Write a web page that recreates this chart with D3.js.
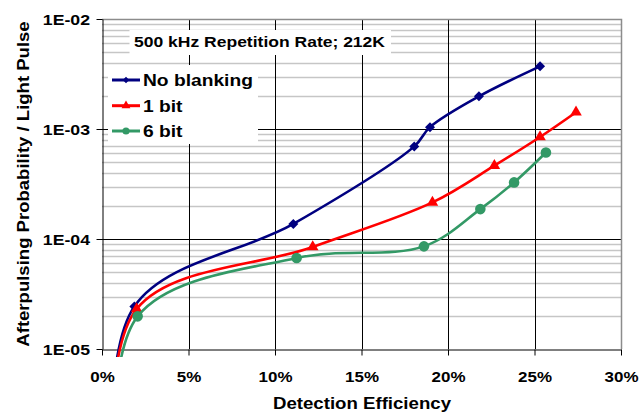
<!DOCTYPE html>
<html>
<head>
<meta charset="utf-8">
<script src="https://cdn.jsdelivr.net/npm/d3@7"></script>
<style>
    body { margin: 0; background: #fff; }
    text { font-family: "Liberation Sans", Arial, sans-serif; font-weight: bold; fill: #000; }
</style>
</head>
<body>
<script>
// detection efficiency (%) and afterpulsing probability / light pulse
// first point of every series sits below 1E-05, only its curve is seen
const noBlankingEff = [0.6, 1.87, 11.06, 18.05, 18.96, 21.79, 25.32];
const noBlankingProb = [3e-7, 2.44e-5, 1.37e-4, 6.95e-4, 1.04e-3, 1.98e-3, 3.71e-3];

const oneBitEff = [0.6, 2.0, 12.18, 19.1, 22.68, 25.32, 27.4];
const oneBitProb = [3e-7, 2.31e-5, 8.46e-5, 2.15e-4, 4.64e-4, 8.46e-4, 1.42e-3];

const sixBitEff = [0.7, 2.06, 11.25, 18.61, 21.87, 23.82, 25.66];
const sixBitProb = [3e-7, 1.98e-5, 6.72e-5, 8.57e-5, 1.87e-4, 3.27e-4, 6.12e-4];

const seriesNames = ["No blanking", "1 bit", "6 bit"];
const xTicks = [0, 5, 10, 15, 20, 25, 30];
const yTicks = [1e-5, 1e-4, 1e-3, 1e-2];
const yTickLabels = ["1E-05", "1E-04", "1E-03", "1E-02"];
const chartTitle = "500 kHz Repetition Rate; 212K";
const xTitle = "Detection Efficiency";
const yTitle = "Afterpulsing Probability / Light Pulse";

(function() {

    const width = 639;
    const height = 413;
    const plot = {left: 102, right: 621, top: 19, bottom: 349};

    // the text in the picture is a bit wider than Arial, so stretch it
    function stretch(sel, k) {
        sel.each(function() {
            let w = this.getComputedTextLength();
            d3.select(this)
                .attr("textLength", w * k)
                .attr("lengthAdjust", "spacingAndGlyphs");
        });
    }

    const svg = d3.select("body").append("svg")
        .attr("width", width)
        .attr("height", height);

    const x = d3.scaleLinear()
        .domain([0, 30])
        .range([plot.left, plot.right]);

    const y = d3.scaleLog()
        .domain([1e-5, 1e-2])
        .range([plot.bottom, plot.top]);

    const series = [
        {name: seriesNames[0], eff: noBlankingEff, prob: noBlankingProb, color: "#000080", symbol: "diamond"},
        {name: seriesNames[1], eff: oneBitEff, prob: oneBitProb, color: "#ff0000", symbol: "triangle"},
        {name: seriesNames[2], eff: sixBitEff, prob: sixBitProb, color: "#339966", symbol: "circle"}
    ];

    // minor gridlines (2..9 of each decade)
    const minor = y.ticks().filter(v => Math.abs(Math.log10(v) - Math.round(Math.log10(v))) > 1e-6);
    svg.append("g")
        .selectAll("line")
        .data(minor)
        .enter()
        .append("line")
        .attr("x1", plot.left)
        .attr("x2", plot.right)
        .attr("y1", d => Math.round(y(d)) + 0.5)
        .attr("y2", d => Math.round(y(d)) + 0.5)
        .style("stroke", "#c6c6c6")
        .style("stroke-width", 1.4);

    // major gridlines
    svg.append("g")
        .selectAll("line")
        .data(yTicks.slice(1, 3))
        .enter()
        .append("line")
        .attr("x1", plot.left)
        .attr("x2", plot.right)
        .attr("y1", d => Math.round(y(d)) + 0.5)
        .attr("y2", d => Math.round(y(d)) + 0.5)
        .style("stroke", "#000")
        .style("stroke-width", 1);

    svg.append("g")
        .selectAll("line")
        .data(xTicks.slice(1, 6))
        .enter()
        .append("line")
        .attr("x1", d => Math.round(x(d)) + 0.5)
        .attr("x2", d => Math.round(x(d)) + 0.5)
        .attr("y1", plot.top)
        .attr("y2", plot.bottom)
        .style("stroke", "#000")
        .style("stroke-width", 1);

    // grey frame on top and right
    svg.append("path")
        .attr("d", "M" + plot.left + "," + (plot.top + 0.5) + "H" + (plot.right + 0.5) + "V" + plot.bottom)
        .style("fill", "none")
        .style("stroke", "#8c8c8c")
        .style("stroke-width", 1.5);

    // white boxes for the title and the legend
    svg.append("rect")
        .attr("x", 129.5).attr("y", 30)
        .attr("width", 261.5).attr("height", 25)
        .style("fill", "#fff");

    svg.append("rect")
        .attr("x", 108).attr("y", 65)
        .attr("width", 150).attr("height", 79)
        .style("fill", "#fff");

    svg.append("text")
        .attr("x", 134)
        .attr("y", 46.5)
        .style("font-size", "15px")
        .text(chartTitle)
        .call(stretch, 1.167);

    // axes
    const yAxis = d3.axisLeft(y)
        .tickValues(yTicks)
        .tickFormat((d, i) => yTickLabels[i])
        .tickSize(6)
        .tickSizeOuter(0)
        .tickPadding(7);

    const gy = svg.append("g")
        .attr("transform", "translate(" + (plot.left + 0.5) + ",0)")
        .call(yAxis);
    gy.select(".domain").style("stroke", "#000");
    gy.selectAll("text")
        .attr("dy", null)
        .attr("y", 5)
        .attr("x", -12.5)
        .style("font-size", "14.5px")
        .style("font-family", null)
        .call(stretch, 1.22);

    const xAxis = d3.axisBottom(x)
        .tickValues(xTicks)
        .tickFormat(d => d + "%")
        .tickSize(6)
        .tickSizeOuter(0);

    const gx = svg.append("g")
        .attr("transform", "translate(0," + (plot.bottom + 0.5) + ")")
        .call(xAxis);
    gx.select(".domain").style("stroke", "#000");
    gx.selectAll("text")
        .attr("dy", null)
        .attr("y", 32)
        .style("font-size", "15px")
        .style("font-family", null)
        .call(stretch, 1.13);

    svg.append("text")
        .attr("x", 362)
        .attr("y", 409.3)
        .attr("text-anchor", "middle")
        .style("font-size", "16px")
        .text(xTitle)
        .call(stretch, 1.164);

    svg.append("text")
        .attr("transform", "translate(29,184) rotate(-90)")
        .attr("text-anchor", "middle")
        .style("font-size", "17px")
        .text(yTitle)
        .call(stretch, 1.09);

    // series
    svg.append("clipPath")
        .attr("id", "plotClip")
        .append("rect")
        .attr("x", plot.left)
        .attr("y", plot.top)
        .attr("width", plot.right - plot.left)
        .attr("height", plot.bottom - plot.top + 8);

    // centripetal spline keeps the short 18-19% step free of a loop
    const line = d3.line()
        .x(d => x(d[0]))
        .y(d => y(d[1]))
        .curve(d3.curveCatmullRom.alpha(0.5));

    const symbols = {
        diamond: d3.symbol().type(d3.symbolSquare).size(50),
        triangle: d3.symbol().type(d3.symbolTriangle).size(58),
        circle: d3.symbol().type(d3.symbolCircle).size(88)
    };
    const legendSymbols = {
        diamond: d3.symbol().type(d3.symbolSquare).size(22),
        triangle: d3.symbol().type(d3.symbolTriangle).size(34),
        circle: d3.symbol().type(d3.symbolCircle).size(40)
    };

    series.forEach(function(s) {
        let pts = s.eff.map((e, i) => [e, s.prob[i]]);

        svg.append("path")
            .attr("clip-path", "url(#plotClip)")
            .attr("d", line(pts))
            .style("fill", "none")
            .style("stroke", s.color)
            .style("stroke-width", 2.6);

        svg.append("g")
            .selectAll("path")
            .data(pts.filter(p => p[1] >= 1e-5))
            .enter()
            .append("path")
            .attr("d", symbols[s.symbol])
            .attr("transform", d => "translate(" + x(d[0]) + "," + y(d[1]) + ")" + (s.symbol == "diamond" ? " rotate(45)" : ""))
            .style("fill", s.color);
    });

    // legend
    const legend = svg.append("g")
        .selectAll("g")
        .data(series)
        .enter()
        .append("g")
        .attr("transform", (d, i) => "translate(0," + [80, 105.7, 131][i] + ")");

    legend.append("line")
        .attr("x1", 112)
        .attr("x2", 140)
        .style("stroke", d => d.color)
        .style("stroke-width", 3);

    legend.append("path")
        .attr("d", d => legendSymbols[d.symbol]())
        .attr("transform", d => "translate(126,0)" + (d.symbol == "diamond" ? " rotate(45)" : ""))
        .style("fill", d => d.color);

    legend.append("text")
        .attr("x", 143)
        .attr("y", 6)
        .style("font-size", "16px")
        .text(d => d.name)
        .call(stretch, 1.2);

})();
</script>
</body>
</html>
